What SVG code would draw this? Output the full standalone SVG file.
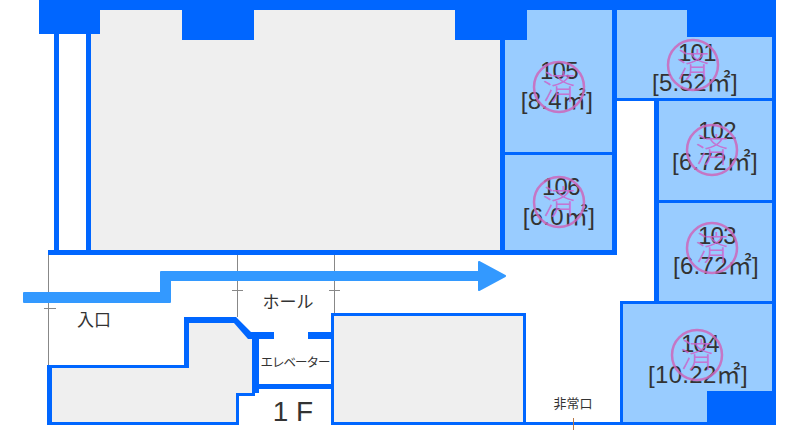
<svg xmlns="http://www.w3.org/2000/svg" width="800" height="430" viewBox="0 0 800 430">
<style>
.w{fill:#06f}
.g{fill:#efefef}
.r{fill:#9cf}
.t{fill:#333;font-family:"Noto Sans CJK JP","Noto Sans",sans-serif;text-anchor:middle}
.n{font-family:"Liberation Sans","Noto Sans CJK JP",sans-serif;font-size:24px;letter-spacing:-.6px}
.a{letter-spacing:.3px}
.s{fill:none;stroke:#c6b;stroke-width:2.500;opacity:.85}
.m{fill:#c6c;opacity:.85;font-family:"Noto Sans CJK JP",sans-serif;font-size:33px;font-weight:300;text-anchor:middle}
.l{stroke:#888;stroke-width:1;fill:none}
</style>
<rect width="800" height="430" fill="#fff"/>
<g id="hall-grey">
<rect class="g" x="88" y="8" width="415" height="244"/>
<path class="g" d="M50 366H187V320H235L253 335V394H237V423H50Z"/>
<rect class="g" x="333" y="315" width="192" height="108"/>
</g>
<g id="room-shapes">
<rect class="r" x="503" y="8" width="112" height="145"/>
<rect class="r" x="503" y="153" width="112" height="99"/>
<rect class="r" x="615" y="8" width="160" height="92"/>
<rect class="r" x="657" y="100" width="117" height="101"/>
<rect class="r" x="657" y="201" width="117" height="101"/>
<rect class="r" x="622" y="302" width="152" height="122"/>
</g>
<g id="walls">
<rect class="w" x="39" y="0" width="737" height="10"/>
<rect class="w" x="39" y="0" width="61" height="34"/>
<rect class="w" x="182" y="0" width="72" height="40"/>
<rect class="w" x="455" y="0" width="72" height="40"/>
<rect class="w" x="687" y="0" width="89" height="37"/>
<rect class="w" x="54" y="34" width="5" height="221"/>
<rect class="w" x="86" y="34" width="5" height="221"/>
<rect class="w" x="48" y="250" width="569" height="5"/>
<rect class="w" x="500" y="40" width="5" height="215"/>
<rect class="w" x="612" y="10" width="5" height="245"/>
<rect class="w" x="505" y="152" width="107" height="3"/>
<rect class="w" x="772" y="10" width="4" height="415"/>
<rect class="w" x="617" y="98" width="155" height="3"/>
<rect class="w" x="654" y="98" width="5" height="205"/>
<rect class="w" x="659" y="200" width="113" height="3"/>
<rect class="w" x="620" y="301" width="156" height="3"/>
<rect class="w" x="620" y="301" width="3" height="124"/>
<rect class="w" x="707" y="391" width="69" height="34"/>
<rect class="w" x="523" y="422" width="253" height="3"/>
<rect class="w" x="331" y="313" width="195" height="3"/>
<rect class="w" x="331" y="313" width="3" height="112"/>
<rect class="w" x="523" y="313" width="3" height="112"/>
<rect class="w" x="331" y="422" width="195" height="3"/>
<path class="w" d="M47 365H184V317H236L251 332H274V339H259V384H331V389H259V393H255V396H239V425H47ZM52 368V422H236V393H252V339H248L234 323H189V368Z" fill-rule="evenodd"/>
<rect class="w" x="308" y="332" width="24" height="7"/>
</g>
<g id="connectors">
<path class="l" d="M48.500 255V365M44 308.500H56M237.500 255V317M232 290.500H243M334.500 255V313M329 290.500H340"/>
<path d="M573.500 418V430" stroke="#b97a4a" stroke-width="1" fill="none"/>
<path d="M24 293H161V272H479V262L505 276L479 290V280H170V302H24Z" fill="#39f" stroke="#39f" stroke-width="2" stroke-linejoin="round"/>
</g>
<g id="labels">
<text class="t" x="94" y="326" font-size="17">入口</text>
<text class="t" x="288" y="308" font-size="17">ホール</text>
<text class="t" x="295" y="367" font-size="12.500" letter-spacing="-1">エレベーター</text>
<text class="t" x="293" y="421" font-size="28" style="font-family:'Liberation Sans',sans-serif">1 F</text>
<text class="t" x="573" y="408" font-size="13">非常口</text>
</g>
<g id="room-105"><text class="t n" x="559" y="79">105</text><text class="t n a" x="557" y="109">[8.4㎡]</text><circle class="s" cx="559" cy="87" r="25"/><text class="m" x="559" y="99">済</text></g>
<g id="room-106"><text class="t n" x="561" y="195">106</text><text class="t n a" x="559" y="225">[6.0㎡]</text><circle class="s" cx="559" cy="202" r="25"/><text class="m" x="559" y="214">済</text></g>
<g id="room-101"><text class="t n" x="697" y="61">101</text><text class="t n a" x="695" y="91">[5.52㎡]</text><circle class="s" cx="693" cy="65" r="25"/><text class="m" x="693" y="77">済</text></g>
<g id="room-102"><text class="t n" x="717" y="139">102</text><text class="t n a" x="715" y="170">[6.72㎡]</text><circle class="s" cx="712" cy="150" r="25"/><text class="m" x="712" y="162">済</text></g>
<g id="room-103"><text class="t n" x="717" y="244">103</text><text class="t n a" x="716" y="274">[6.72㎡]</text><circle class="s" cx="712" cy="248" r="25"/><text class="m" x="712" y="260">済</text></g>
<g id="room-104"><text class="t n" x="700" y="352">104</text><text class="t n a" x="698" y="383">[10.22㎡]</text><circle class="s" cx="697" cy="355" r="25"/><text class="m" x="697" y="367">済</text></g>
</svg>
